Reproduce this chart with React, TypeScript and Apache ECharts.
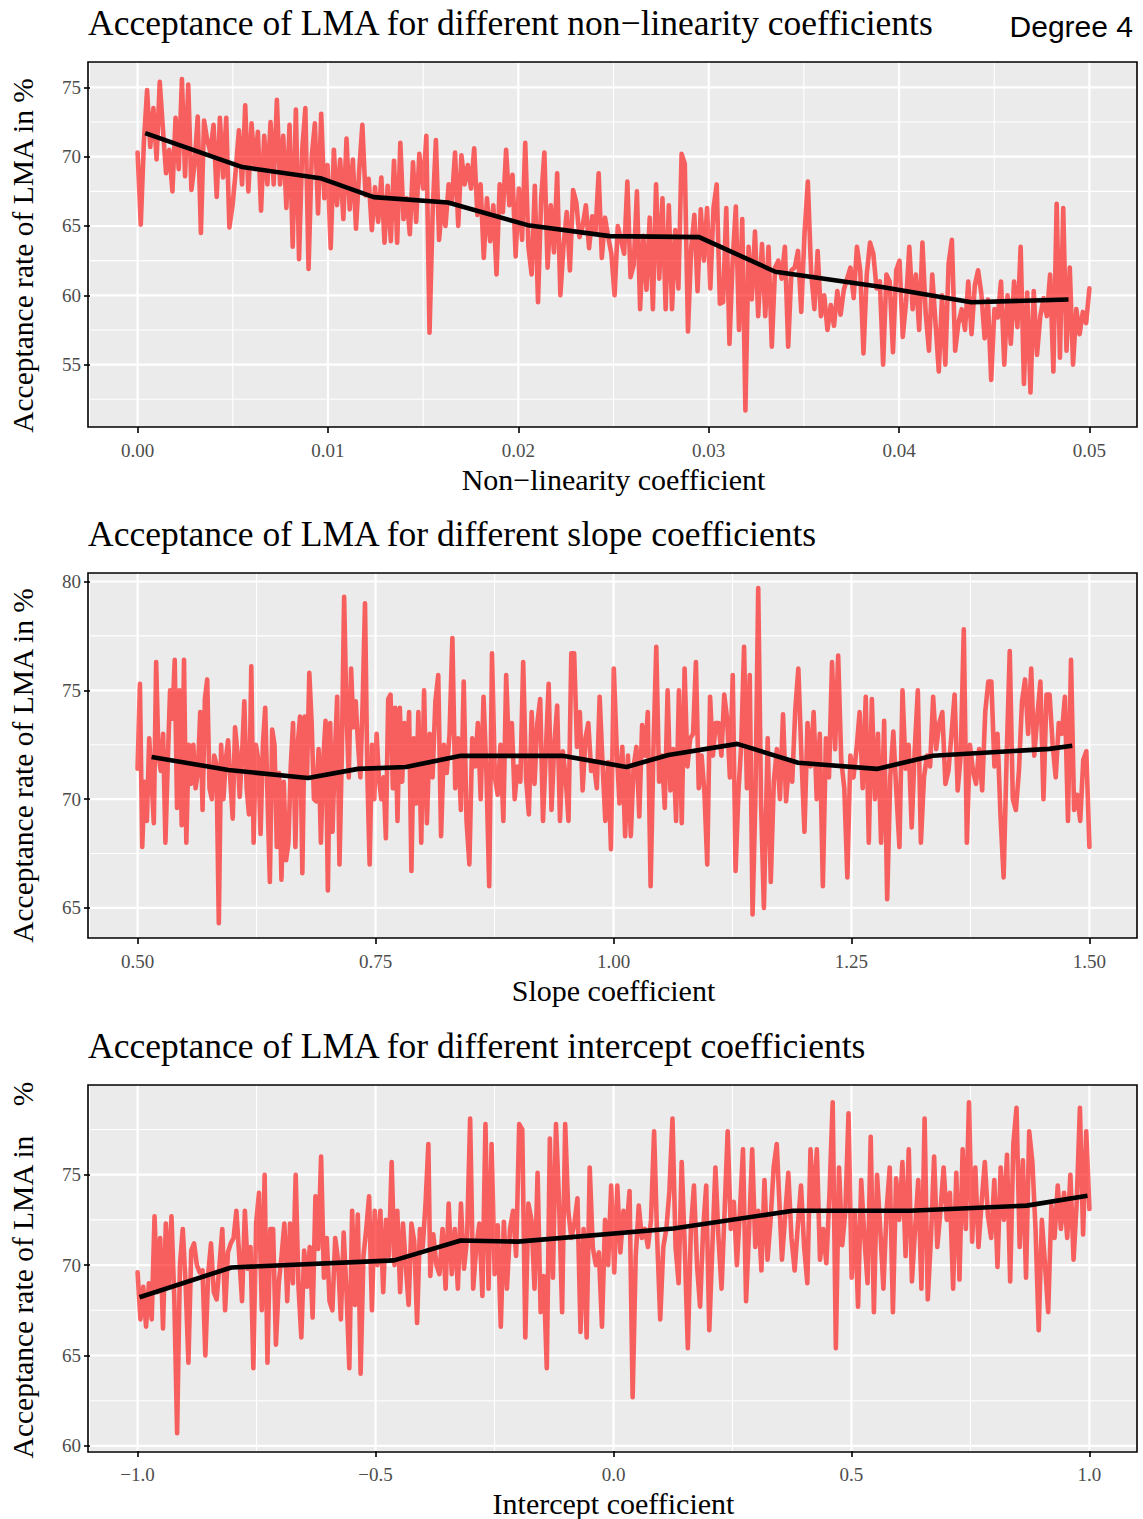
import React, { useEffect, useRef } from 'react';
import * as echarts from 'echarts';

const W = 1143;
const H = 1519;
const FONT_SERIF = "'Liberation Serif', 'DejaVu Serif', serif";
const FONT_SANS = "'Liberation Sans', 'DejaVu Sans', sans-serif";

// ---------- Panel 1: non-linearity coefficient ----------
const p1Title = 'Acceptance of LMA for different non\u2212linearity coefficients';
const p1XName = 'Non\u2212linearity coefficient';
const p1XRange = [-0.0025, 0.0525];
const p1YRange = [50.5, 76.83];
const p1XMajor = [0, 0.01, 0.02, 0.03, 0.04, 0.05];
const p1XMinor = [0.005, 0.015, 0.025, 0.035, 0.045];
const p1XLabels = ['0.00', '0.01', '0.02', '0.03', '0.04', '0.05'];
const p1YMajor = [55, 60, 65, 70, 75];
const p1YMinor = [52.5, 57.5, 62.5, 67.5, 72.5];
const p1YLabels = ['55', '60', '65', '70', '75'];
// noisy acceptance rate, three consecutive stretches of the x range
const p1NoiseA = [70.3, 65.1, 71.1, 74.8, 70.7, 73.5, 69.8, 75.4, 72.0, 68.8, 70.5, 67.5, 72.8, 69.1, 75.6, 68.6, 75.2, 67.6, 69.5, 72.9, 64.5, 72.6, 71.2, 70.3, 72.3, 67.1, 72.8, 68.5, 72.8, 64.9, 66.5, 69.0, 71.9, 68.0, 73.7, 67.5, 72.4, 69.1, 71.8, 66.1, 71.5, 68.0, 72.5, 68.0, 74.1, 68.0, 71.5, 66.3, 72.3, 63.5, 73.4, 62.6, 70.5, 73.5, 61.9, 70.0, 72.4, 65.9, 73.1, 67.0, 69.4, 63.4, 70.5, 66.5, 69.8, 65.5, 71.3, 66.2, 69.8, 64.8, 69.0, 72.3, 67.2, 68.4, 64.7, 67.8, 65.3, 68.5, 63.8, 67.9, 63.9, 69.7, 63.8, 71.0, 65.5, 67.0, 64.4, 69.6, 65.3, 70.2];
const p1NoiseB = [67.7, 71.5, 57.3, 66.1, 71.2, 64.0, 66.7, 65.0, 68.0, 66.8, 70.3, 65.0, 70.1, 68.0, 69.4, 67.7, 70.6, 65.8, 68.0, 62.7, 67.0, 63.9, 66.5, 61.5, 68.0, 66.0, 70.5, 66.5, 68.7, 62.8, 67.7, 64.0, 71.0, 63.5, 61.5, 67.9, 59.5, 67.0, 70.3, 62.0, 66.5, 63.1, 68.8, 60.0, 63.6, 66.0, 61.8, 67.6, 66.7, 64.2, 65.0, 66.5, 63.4, 65.7, 64.5, 68.8, 62.7, 65.6, 64.2, 63.0, 60.0, 65.0, 64.0, 63.0, 68.2, 61.3, 62.2, 67.5, 59.0, 64.3, 60.4, 65.6, 59.0, 68.0, 61.2, 67.0, 59.0, 66.5, 59.0, 64.7, 60.5, 70.2, 69.5, 57.4, 63.4, 65.8, 60.3, 66.2, 62.5, 66.3, 60.5, 66.3, 68.0, 59.4, 59.5, 66.3, 56.5, 62.5, 66.4, 57.5, 65.5, 51.7, 63.5, 59.7, 64.6, 58.5];
const p1NoiseC = [63.7, 58.5, 63.5, 56.3, 62.0, 62.5, 61.2, 63.5, 56.3, 61.8, 62.0, 63.2, 58.8, 64.5, 68.2, 61.7, 59.0, 63.2, 58.5, 60.0, 57.5, 59.3, 57.8, 60.3, 58.6, 60.4, 61.2, 62.0, 59.8, 63.5, 61.8, 55.8, 61.5, 63.8, 63.0, 60.5, 61.0, 55.0, 61.5, 61.0, 55.9, 61.8, 62.5, 57.0, 59.5, 63.5, 59.0, 61.5, 57.5, 63.8, 58.7, 56.0, 61.5, 58.0, 54.5, 60.0, 55.0, 62.3, 64.0, 56.0, 58.0, 59.0, 57.5, 61.0, 57.2, 60.7, 61.8, 60.1, 56.9, 59.7, 53.9, 59.0, 58.4, 61.0, 55.0, 60.0, 56.5, 61.0, 57.7, 63.5, 53.6, 60.2, 53.0, 60.3, 55.7, 58.5, 59.8, 58.5, 61.5, 54.5, 66.6, 55.5, 66.3, 56.0, 62.0, 55.0, 59.0, 57.2, 58.8, 58.0, 60.5];
const p1Stretches = [[0, 0.0148], [0.015, 0.0326], [0.0328, 0.05]];
const p1SmoothX = [0.0004, 0.0055, 0.0096, 0.0124, 0.0163, 0.0205, 0.0248, 0.0295, 0.0335, 0.0391, 0.0438, 0.0489];
const p1SmoothY = [71.7, 69.25, 68.45, 67.08, 66.7, 65.06, 64.27, 64.2, 61.7, 60.6, 59.5, 59.7];

// ---------- Panel 2: slope coefficient ----------
const p2Title = 'Acceptance of LMA for different slope coefficients';
const p2XName = 'Slope coefficient';
const p2XRange = [0.45, 1.55];
const p2YRange = [63.62, 80.39];
const p2XMajor = [0.5, 0.75, 1.0, 1.25, 1.5];
const p2XMinor = [0.625, 0.875, 1.125, 1.375];
const p2XLabels = ['0.50', '0.75', '1.00', '1.25', '1.50'];
const p2YMajor = [65, 70, 75, 80];
const p2YMinor = [67.5, 72.5, 77.5];
const p2YLabels = ['65', '70', '75', '80'];
const p2NoiseA = [71.4, 75.3, 67.8, 70.8, 69.0, 72.8, 70.9, 68.9, 76.3, 72.0, 71.3, 73.0, 68.0, 71.7, 75.0, 73.7, 76.4, 69.6, 75.0, 68.8, 76.4, 68.0, 72.5, 70.7, 72.5, 70.5, 71.3, 74.0, 69.5, 74.6, 75.5, 70.5, 70.0, 72.0, 71.6, 64.3, 72.5, 70.0, 71.8, 72.7, 70.8, 69.1, 73.3, 72.2, 70.1, 72.0, 74.5, 70.5, 69.3, 76.1, 68.0, 72.5, 71.8, 68.4, 72.5, 74.2, 70.0, 66.2, 73.2, 72.5, 67.8, 71.2, 66.3, 70.8, 67.2, 68.0, 71.5, 73.5, 67.8, 72.5, 73.8, 66.6, 73.8, 71.0, 75.8, 73.5, 70.0, 69.9, 72.3, 68.0, 71.8, 73.6, 65.8, 73.5, 68.5, 72.0, 74.7, 67.0, 72.0, 79.3, 74.0, 71.0, 76.0, 73.3, 74.5, 72.5, 71.0, 74.5, 79.0, 71.2, 67.0, 72.5, 70.0, 73.0, 71.0, 70.0, 71.0, 68.2, 74.6, 74.8, 70.5, 74.2, 69.0, 74.2, 70.8, 73.5, 71.5, 74.0, 66.7, 72.8, 69.8, 74.0];
const p2NoiseB = [68.0, 75.0, 68.9, 73.0, 71.0, 74.5, 75.7, 68.3, 72.5, 71.2, 73.0, 77.4, 70.5, 72.8, 69.5, 75.4, 69.0, 67.0, 72.8, 71.5, 73.5, 70.0, 74.7, 71.3, 66.0, 76.7, 71.0, 70.2, 72.5, 69.0, 75.7, 72.0, 73.5, 70.0, 71.5, 70.8, 76.3, 71.0, 69.3, 74.0, 70.7, 73.5, 74.6, 69.0, 72.2, 75.3, 69.5, 72.5, 74.3, 69.0, 72.2, 71.0, 69.0, 76.7, 76.7, 72.4, 74.0, 70.4, 72.8, 73.5, 71.3, 71.6, 70.5, 74.7, 71.7, 69.0, 71.7, 67.7, 76.0, 72.4, 69.8, 72.4, 68.3, 72.0, 68.3, 71.5, 72.4, 69.2, 73.4, 72.0, 74.0, 66.0, 72.3, 77.0, 70.8, 72.0, 69.6, 75.0, 70.4, 72.3, 69.0, 75.0, 68.9, 76.0, 71.5, 72.8, 73.0, 76.3, 70.5, 72.0, 70.3, 67.0, 74.7, 72.0, 73.5, 73.5, 72.0, 74.8, 73.7, 71.0, 75.7, 66.7, 70.3, 72.5, 77.0, 70.5, 75.7, 64.7, 70.0, 79.7, 69.8, 65.0];
const p2NoiseC = [72.8, 66.2, 70.8, 72.3, 70.0, 73.9, 69.9, 71.8, 70.8, 74.1, 76.0, 72.0, 68.5, 73.5, 71.5, 74.0, 70.0, 73.0, 66.0, 72.8, 71.0, 76.3, 72.3, 76.6, 71.8, 70.5, 66.4, 72.0, 71.0, 72.3, 74.0, 70.5, 74.7, 68.0, 74.6, 70.0, 73.0, 68.0, 73.6, 65.4, 71.0, 73.1, 70.3, 67.8, 75.0, 71.4, 72.5, 68.7, 72.3, 75.0, 68.0, 71.0, 72.0, 71.5, 74.7, 72.3, 73.5, 74.0, 70.7, 71.3, 73.0, 74.8, 70.4, 72.0, 77.8, 68.0, 72.5, 71.3, 70.7, 72.3, 70.4, 74.0, 75.4, 75.4, 71.5, 73.0, 69.2, 66.4, 72.0, 76.8, 70.0, 69.5, 71.3, 74.5, 75.5, 73.0, 76.0, 72.0, 73.8, 75.4, 70.0, 74.8, 74.8, 72.5, 71.0, 73.5, 73.0, 74.7, 69.0, 76.4, 69.5, 70.2, 69.0, 71.8, 72.2, 67.8];
const p2Stretches = [[0.5, 0.795], [0.798, 1.158], [1.162, 1.5]];
const p2SmoothX = [0.5147, 0.5954, 0.679, 0.7317, 0.782, 0.8396, 0.9465, 1.0136, 1.0577, 1.13, 1.194, 1.2767, 1.3354, 1.458, 1.482];
const p2SmoothY = [71.94, 71.34, 70.97, 71.39, 71.48, 71.99, 71.99, 71.48, 72.03, 72.54, 71.67, 71.39, 71.99, 72.31, 72.45];

// ---------- Panel 3: intercept coefficient ----------
const p3Title = 'Acceptance of LMA for different intercept coefficients';
const p3XName = 'Intercept coefficient';
const p3XRange = [-1.1, 1.1];
const p3YRange = [59.72, 79.96];
const p3XMajor = [-1.0, -0.5, 0.0, 0.5, 1.0];
const p3XMinor = [-0.75, -0.25, 0.25, 0.75];
const p3XLabels = ['\u22121.0', '\u22120.5', '0.0', '0.5', '1.0'];
const p3YMajor = [60, 65, 70, 75];
const p3YMinor = [62.5, 67.5, 72.5, 77.5];
const p3YLabels = ['60', '65', '70', '75'];
const p3NoiseA = [69.6, 67.0, 68.8, 66.6, 69.0, 67.0, 72.7, 68.5, 71.5, 66.5, 72.3, 68.8, 72.7, 68.2, 60.7, 70.0, 72.0, 69.0, 64.6, 70.8, 71.2, 70.0, 69.6, 69.7, 65.0, 69.5, 71.2, 68.5, 68.1, 70.0, 72.0, 67.5, 70.7, 71.2, 71.5, 73.0, 70.5, 68.0, 73.0, 69.8, 71.0, 64.3, 72.3, 74.0, 67.5, 75.0, 64.6, 72.0, 72.0, 65.6, 69.0, 70.5, 72.3, 68.0, 72.3, 69.0, 75.0, 68.8, 66.0, 70.8, 68.8, 71.0, 67.1, 73.8, 70.9, 76.0, 69.3, 71.5, 68.0, 67.5, 71.5, 70.3, 67.0, 71.8, 68.5, 64.3, 73.0, 67.8, 72.8, 64.0, 70.5, 72.0, 73.8, 67.5, 73.0, 70.0, 73.0, 68.5, 72.5, 70.5, 75.7, 70.0, 73.0, 68.5, 72.3, 70.0, 67.8, 72.3, 71.3, 66.8, 72.0, 71.0, 73.4, 76.7];
const p3NoiseB = [69.4, 71.7, 70.0, 69.5, 72.0, 68.7, 73.4, 69.5, 72.0, 68.7, 73.4, 69.8, 71.5, 78.1, 68.7, 71.0, 72.3, 68.3, 77.8, 68.7, 76.7, 69.5, 72.2, 66.6, 72.4, 68.7, 72.0, 73.0, 70.5, 77.8, 77.5, 66.0, 73.4, 72.5, 68.7, 75.1, 67.4, 69.4, 64.3, 77.0, 69.3, 77.8, 73.5, 67.4, 77.8, 73.0, 71.5, 72.3, 73.7, 66.3, 72.0, 66.0, 75.4, 71.0, 70.0, 70.7, 66.6, 72.5, 70.0, 74.4, 69.6, 74.4, 70.7, 73.0, 72.0, 74.1, 62.7, 70.5, 73.3, 71.5, 72.0, 71.0, 72.5, 77.4, 71.5, 67.0, 71.0, 72.0, 74.1, 78.1, 71.0, 69.0, 75.7, 71.0, 65.4, 72.0, 74.4, 70.0, 67.7, 72.0, 74.4, 66.4, 71.0, 75.4, 71.5, 68.7, 73.0, 77.4, 72.0, 73.5, 70.0, 73.0, 76.4, 68.0, 72.0, 76.4, 71.0, 73.0, 69.7, 74.7, 70.3, 72.5, 75.4, 76.7];
const p3NoiseC = [70.3, 72.7, 75.1, 71.5, 69.7, 72.2, 74.4, 71.0, 69.0, 76.4, 73.0, 76.4, 70.3, 72.0, 70.1, 74.0, 79.0, 65.4, 75.4, 71.1, 73.0, 78.4, 69.3, 73.0, 67.7, 74.7, 71.5, 69.0, 77.1, 67.4, 75.0, 72.0, 68.7, 73.0, 75.4, 67.4, 74.8, 72.5, 75.7, 70.5, 76.4, 69.1, 72.0, 74.7, 68.7, 78.1, 68.1, 71.5, 76.0, 71.0, 73.0, 75.4, 72.5, 74.0, 68.7, 75.1, 69.2, 76.4, 72.0, 79.0, 71.3, 75.4, 71.0, 73.5, 75.7, 72.7, 71.5, 74.7, 69.9, 75.4, 72.5, 76.1, 69.1, 76.7, 78.7, 71.0, 75.8, 69.3, 77.4, 75.7, 72.0, 66.4, 72.5, 70.0, 67.4, 73.3, 71.5, 74.4, 72.0, 74.0, 71.5, 75.0, 70.3, 73.5, 78.7, 71.7, 77.4, 73.1];
const p3Stretches = [[-1.0, -0.389], [-0.385, 0.343], [0.354, 1.0]];
const p3SmoothX = [-0.996, -0.803, -0.461, -0.321, -0.201, 0.126, 0.377, 0.623, 0.868, 0.996];
const p3SmoothY = [68.22, 69.87, 70.26, 71.36, 71.3, 72.02, 73.01, 73.01, 73.29, 73.84];

const yName = 'Acceptance rate of LMA in %';
const yName3 = 'Acceptance rate of LMA in\u00A0\u00A0\u00A0\u00A0%';

// ---------- layout ----------
const GRIDS = [
  { left: 88, top: 62, width: 1049, height: 365 },
  { left: 88, top: 573, width: 1049, height: 365 },
  { left: 88, top: 1085, width: 1049, height: 367 },
];
const TITLE_TOPS = [5, 516, 1028];
const YNAME_SHIFT = [22, 20, 4];

function spread(values: number[], x0: number, x1: number): number[][] {
  const n = values.length;
  return values.map((v, i) => [x0 + ((x1 - x0) * i) / (n - 1), v]);
}

function joinStretches(parts: number[][], stretches: number[][]): number[][] {
  const out: number[][] = [];
  parts.forEach((p, i) => {
    out.push(...spread(p as any, stretches[i][0], stretches[i][1]));
  });
  return out;
}

const panels = [
  {
    title: p1Title, xName: p1XName, yName: yName,
    xRange: p1XRange, yRange: p1YRange,
    xMajor: p1XMajor, xMinor: p1XMinor, xLabels: p1XLabels,
    yMajor: p1YMajor, yMinor: p1YMinor, yLabels: p1YLabels,
    noise: joinStretches([p1NoiseA, p1NoiseB, p1NoiseC] as any, p1Stretches),
    smooth: p1SmoothX.map((x, i) => [x, p1SmoothY[i]]),
  },
  {
    title: p2Title, xName: p2XName, yName: yName,
    xRange: p2XRange, yRange: p2YRange,
    xMajor: p2XMajor, xMinor: p2XMinor, xLabels: p2XLabels,
    yMajor: p2YMajor, yMinor: p2YMinor, yLabels: p2YLabels,
    noise: joinStretches([p2NoiseA, p2NoiseB, p2NoiseC] as any, p2Stretches),
    smooth: p2SmoothX.map((x, i) => [x, p2SmoothY[i]]),
  },
  {
    title: p3Title, xName: p3XName, yName: yName3,
    xRange: p3XRange, yRange: p3YRange,
    xMajor: p3XMajor, xMinor: p3XMinor, xLabels: p3XLabels,
    yMajor: p3YMajor, yMinor: p3YMinor, yLabels: p3YLabels,
    noise: joinStretches([p3NoiseA, p3NoiseB, p3NoiseC] as any, p3Stretches),
    smooth: p3SmoothX.map((x, i) => [x, p3SmoothY[i]]),
  },
];

function labelFor(v: number, ticks: number[], labels: string[]) {
  const i = ticks.findIndex((t) => Math.abs(t - v) < 1e-9);
  return i >= 0 ? labels[i] : '';
}

function buildOption() {
  const title: any[] = [];
  const grid: any[] = [];
  const xAxis: any[] = [];
  const yAxis: any[] = [];
  const series: any[] = [];
  const graphic: any[] = [];

  panels.forEach((P, i) => {
    const g = GRIDS[i];
    title.push({
      text: P.title, left: 88, top: TITLE_TOPS[i], padding: 0,
      textStyle: { fontFamily: FONT_SERIF, fontSize: 35.5, fontWeight: 'normal', color: '#000' },
    });
    grid.push({ ...g, show: true, backgroundColor: '#EBEBEB', borderWidth: 0 });
    xAxis.push({
      gridIndex: i, type: 'value', min: P.xRange[0], max: P.xRange[1],
      axisLine: { show: false, onZero: false },
      axisTick: { show: true, customValues: P.xMajor, length: 6, lineStyle: { color: '#333333', width: 2 } },
      axisLabel: {
        show: true, customValues: P.xMajor, margin: 14,
        formatter: (v: number) => labelFor(v, P.xMajor, P.xLabels),
        color: '#4D4D4D', fontSize: 19, fontFamily: FONT_SERIF,
      },
      splitLine: { show: false },
      name: P.xName, nameLocation: 'middle', nameGap: 37,
      nameTextStyle: { fontFamily: FONT_SERIF, fontSize: 30, color: '#000' },
    });
    yAxis.push({
      gridIndex: i, type: 'value', min: P.yRange[0], max: P.yRange[1],
      axisLine: { show: false, onZero: false },
      axisTick: { show: true, customValues: P.yMajor, length: 6, lineStyle: { color: '#333333', width: 2 } },
      axisLabel: {
        show: true, customValues: P.yMajor, margin: 9,
        formatter: (v: number) => labelFor(v, P.yMajor, P.yLabels),
        color: '#4D4D4D', fontSize: 19, fontFamily: FONT_SERIF,
      },
      splitLine: { show: false },
      name: P.yName, nameLocation: 'middle', nameGap: 52, nameRotate: 90,
      nameTextStyle: {
        fontFamily: FONT_SERIF, fontSize: 29.5, color: '#000',
        padding: [0, YNAME_SHIFT[i], 0, 0],
      },
    });

    const gl = (data: number[][], width: number) => ({
      type: 'line', xAxisIndex: i, yAxisIndex: i, data, symbol: 'none', silent: true,
      lineStyle: { color: '#FFFFFF', width }, z: 1, animation: false,
    });
    P.xMinor.forEach((x) => series.push(gl([[x, P.yRange[0]], [x, P.yRange[1]]], 1.1)));
    P.yMinor.forEach((y) => series.push(gl([[P.xRange[0], y], [P.xRange[1], y]], 1.1)));
    P.xMajor.forEach((x) => series.push(gl([[x, P.yRange[0]], [x, P.yRange[1]]], 2.2)));
    P.yMajor.forEach((y) => series.push(gl([[P.xRange[0], y], [P.xRange[1], y]], 2.2)));

    series.push({
      type: 'line', xAxisIndex: i, yAxisIndex: i, data: P.noise, symbol: 'none', silent: true,
      lineStyle: { color: 'rgba(255,0,0,0.6)', width: 4.6, join: 'round', cap: 'round' }, z: 2,
    });
    series.push({
      type: 'line', xAxisIndex: i, yAxisIndex: i, data: P.smooth, symbol: 'none', silent: true,
      lineStyle: { color: '#000000', width: 4.6, join: 'round', cap: 'butt' }, z: 3,
    });

    graphic.push({
      type: 'rect', silent: true, z: 100,
      shape: { x: g.left, y: g.top, width: g.width, height: g.height },
      style: { fill: 'none', stroke: '#000000', lineWidth: 1.6 },
    });
  });

  title.push({
    text: 'Degree 4', right: 10, top: 11, padding: 0,
    textStyle: { fontFamily: FONT_SANS, fontSize: 30, fontWeight: 'normal', color: '#000' },
  });

  return { animation: false, backgroundColor: '#FFFFFF', title, grid, xAxis, yAxis, series, graphic };
}

export default function App() {
  const ref = useRef<HTMLDivElement>(null);
  useEffect(() => {
    document.body.style.margin = '0';
    const chart = echarts.init(ref.current as HTMLDivElement, null, { renderer: 'svg' });
    chart.setOption(buildOption() as any);
    return () => chart.dispose();
  }, []);
  return <div ref={ref} style={{ width: W, height: H }} />;
}
